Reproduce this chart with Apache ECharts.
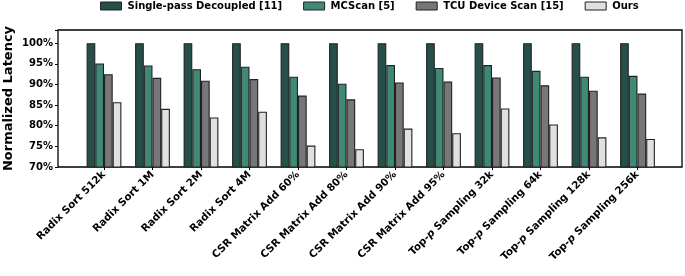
<!DOCTYPE html>
<html><head><meta charset="utf-8">
<script src="https://cdn.jsdelivr.net/npm/echarts@6/dist/echarts.min.js"></script>
<style>html,body{margin:0;padding:0;background:#fff}#c{width:685px;height:276px}</style>
</head><body><div id="c"></div>
<script>
const categories = ['Radix Sort 512k','Radix Sort 1M','Radix Sort 2M','Radix Sort 4M','CSR Matrix Add 60%','CSR Matrix Add 80%','CSR Matrix Add 90%','CSR Matrix Add 95%','Top-p Sampling 32k','Top-p Sampling 64k','Top-p Sampling 128k','Top-p Sampling 256k'];
const seriesNames = ['Single-pass Decoupled [11]','MCScan [5]','TCU Device Scan [15]','Ours'];
const singlePass = [100,100,100,100,100,100,100,100,100,100,100,100];
const mcscan = [95.1,94.6,93.7,94.3,91.9,90.2,94.7,94.0,94.7,93.3,91.9,92.1];
const tcu = [92.5,91.6,90.9,91.3,87.3,86.4,90.5,90.7,91.7,89.8,88.5,87.8];
const ours = [85.7,84.1,82.0,83.4,75.2,74.3,79.3,78.2,84.2,80.3,77.2,76.8];
const yTicks = [70,75,80,85,90,95,100];
const colors = ['#244f4b','#3e8a77','#777777','#e0e0e0'];

const font = 'DejaVu Sans';
const chart = echarts.init(document.getElementById('c'));
const values = [singlePass, mcscan, tcu, ours];
const yMin = 70, yMax = 103.2;
const gTop = 30, gBottom = 276 - 167;
const xfs = 10.3;

chart.setOption({
  animation: false,
  textStyle: {fontFamily: font},
  legend: {
    top: 1, left: 100, padding: 0, itemWidth: 21, itemHeight: 8, itemGap: 21, icon: 'rect',
    itemStyle: {borderColor: '#222', borderWidth: 1},
    textStyle: {fontFamily: font, fontWeight: 'bold', fontSize: 10, color: '#000', padding: [0,0,0,1]},
    data: seriesNames
  },
  grid: [
    {left: 58, right: 3, top: gTop, bottom: gBottom, show: true, borderColor: '#000', borderWidth: 1.3, backgroundColor: 'transparent', outerBoundsMode: 'none', containLabel: false},
    {left: 79.75, width: 582, top: gTop, bottom: gBottom, outerBoundsMode: 'none', containLabel: false}
  ],
  xAxis: [
    {gridIndex: 0, type: 'value', min: 0, max: 1, show: false},
    {gridIndex: 1, type: 'category', data: categories,
      axisLine: {show: false},
      axisTick: {show: true, alignWithLabel: true, length: 3, lineStyle: {color: '#000'}},
      axisLabel: {rotate: 45, margin: 6, interval: 0, fontFamily: font, fontWeight: 'bold', fontSize: xfs, color: '#000',
        formatter: function (v) {
          if (v.indexOf('Top-p') === 0) {
            return '{n|Top-}{i|p}{n|' + v.slice(5) + '}';
          }
          return '{n|' + v + '}';
        },
        rich: {
          n: {fontFamily: font, fontWeight: 'bold', fontSize: xfs, color: '#000'},
          i: {fontFamily: font, fontWeight: 'bold', fontStyle: 'italic', fontSize: xfs, color: '#000'}
        }
      }
    }
  ],
  yAxis: [
    {gridIndex: 0, type: 'value', min: yMin, max: yMax, interval: 5,
      name: 'Normalized Latency', nameLocation: 'middle', nameGap: 43, nameMoveOverlap: false,
      nameTextStyle: {fontFamily: font, fontWeight: 'bold', fontSize: 13, color: '#000'},
      axisLine: {show: false},
      axisTick: {show: true, length: 3, lineStyle: {color: '#000'}},
      splitLine: {show: false},
      axisLabel: {margin: 5, fontFamily: font, fontWeight: 'bold', fontSize: 10, color: '#000',
        formatter: function (v) { return yTicks.indexOf(v) >= 0 ? v + '%' : ''; }}
    },
    {gridIndex: 1, type: 'value', min: yMin, max: yMax, show: false}
  ],
  series: seriesNames.map((n, i) => ({
    name: n, type: 'bar', xAxisIndex: 1, yAxisIndex: 1,
    data: values[i], barWidth: 8.7, barGap: '0%',
    itemStyle: {color: colors[i], borderColor: '#222', borderWidth: 1.1}
  }))
});
</script></body></html>
